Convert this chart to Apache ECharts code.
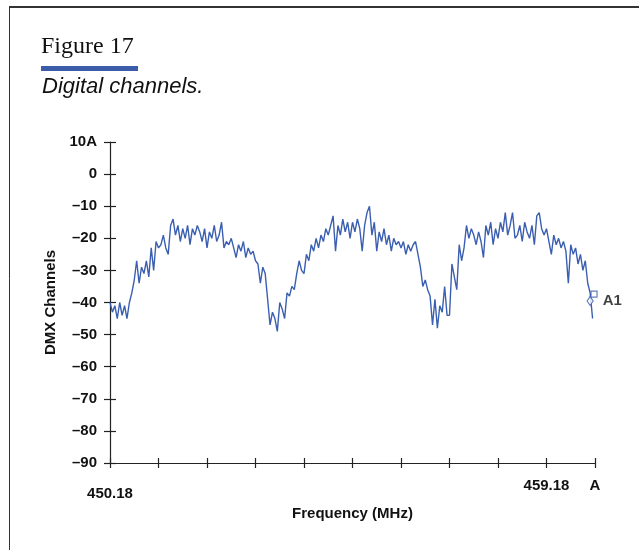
<!DOCTYPE html>
<html>
<head>
<meta charset="utf-8">
<script src="https://cdn.jsdelivr.net/npm/echarts@6/dist/echarts.min.js"></script>
<style>
  html, body { margin: 0; padding: 0; background: #fff; }
  #chart { width: 639px; height: 550px; }
</style>
</head>
<body>
<div id="chart"></div>
<script>
// x axis is in screen divisions (0..10), one division = 1 MHz
const xTickLabels = ['450.18', '', '', '', '', '', '', '', '', '459.18', 'A'];
const yTickValues = [-90, -80, -70, -60, -50, -40, -30, -20, -10, 0, 10];
const yTickLabels = ['–90', '–80', '–70', '–60', '–50', '–40', '–30', '–20', '–10', '0', '10A'];

// sweep points, 0.05 division apart
const sweepStep = 0.05;
const traceLevels = [
  -40, -43, -41, -45, -40, -44, -41, -45, -40, -37,
  -33, -27, -34, -29, -31, -27, -32, -23, -30, -21,
  -23, -22, -19, -23, -25, -16, -14, -19, -16, -21,
  -17, -20, -16, -22, -17, -19, -16, -18, -21, -17,
  -23, -18, -20, -16, -21, -19, -15, -23, -21, -22,
  -20, -23, -26, -22, -24, -21, -26, -23, -25, -24,
  -27, -28, -34, -29, -31, -39, -47, -43, -45, -49,
  -40, -42, -45, -37, -38, -35, -36, -31, -27, -30,
  -31, -25, -27, -22, -24, -20, -23, -19, -21, -17,
  -19, -16, -13, -24, -16, -19, -14, -18, -15, -20,
  -15, -18, -14, -17, -24, -16, -12, -10, -19, -15,
  -24, -18, -21, -17, -22, -19, -24, -20, -22, -21,
  -23, -21, -25, -22, -24, -22, -21, -25, -29, -35,
  -33, -36, -38, -47, -39, -48, -41, -43, -35, -44,
  -44, -28, -32, -36, -22, -27, -23, -16, -20, -17,
  -19, -22, -18, -21, -26, -16, -19, -15, -22, -17,
  -20, -15, -18, -12, -19, -16, -12, -20, -19, -16,
  -21, -15, -18, -20, -16, -22, -13, -12, -17, -19,
  -17, -21, -25, -19, -22, -20, -23, -21, -24, -34,
  -22, -25, -23, -28, -25, -30, -27, -34, -37, -45
];

// marker A1
const markerSquare = [9.98, -37.4];
const markerDiamond = [9.9, -39.5];

const axisColor = '#222';
const textFont = '"Liberation Sans", Arial, sans-serif';

const chart = echarts.init(document.getElementById('chart'));

const traceData = traceLevels.map((v, i) => [i * sweepStep, v]);

const option = {
  animation: false,
  graphic: [
    // frame
    { type: 'line', shape: { x1: 9, y1: 7, x2: 639, y2: 7 }, style: { stroke: '#333', lineWidth: 2 } },
    { type: 'line', shape: { x1: 9.5, y1: 7, x2: 9.5, y2: 550 }, style: { stroke: '#333', lineWidth: 1 } },
    {
      type: 'text', left: 41, top: 35,
      style: { text: 'Figure 17', fontSize: 24, fontFamily: '"Liberation Serif", "DejaVu Serif", serif', fill: '#111' }
    },
    { type: 'rect', shape: { x: 41, y: 66, width: 97, height: 5 }, style: { fill: '#3b5ca8' } },
    {
      type: 'text', left: 42, top: 76,
      style: { text: 'Digital channels.', fontSize: 22, fontStyle: 'italic', fontFamily: textFont, fill: '#111' }
    }
  ],
  grid: {
    left: 110,
    right: 44,
    top: 142,
    bottom: 87
  },
  xAxis: [
    {
      type: 'value',
      min: 0,
      max: 10,
      interval: 1,
      position: 'bottom',
      axisLine: { onZero: false, lineStyle: { color: axisColor, width: 1.2 } },
      axisTick: { length: 5, lineStyle: { color: axisColor, width: 1.2 } },
      splitLine: { show: false },
      axisLabel: {
        showMinLabel: true,
        showMaxLabel: true,
        margin: 15,
        color: '#111',
        fontSize: 15,
        fontWeight: 'bold',
        fontFamily: textFont,
        formatter: (v) => {
          const s = xTickLabels[Math.round(v)] || '';
          return Math.round(v) === 0 ? '{low|' + s + '}' : s;
        },
        rich: {
          low: { padding: [8, 0, 0, 0], color: '#111', fontSize: 15, fontWeight: 'bold', fontFamily: textFont }
        }
      },
      name: 'Frequency (MHz)',
      nameLocation: 'middle',
      nameGap: 43,
      nameTextStyle: { color: '#111', fontSize: 15, fontWeight: 'bold', fontFamily: textFont }
    },
    {
      type: 'value',
      min: 0,
      max: 10,
      interval: 1,
      position: 'bottom',
      axisLine: { show: false, onZero: false },
      axisTick: { inside: true, length: 5, lineStyle: { color: axisColor, width: 1.2 } },
      axisLabel: { show: false },
      splitLine: { show: false }
    }
  ],
  yAxis: [
    {
      type: 'value',
      min: -90,
      max: 10,
      interval: 10,
      position: 'left',
      axisLine: { show: true, onZero: false, lineStyle: { color: axisColor, width: 1.2 } },
      axisTick: { show: true, length: 6, lineStyle: { color: axisColor, width: 1.2 } },
      splitLine: { show: false },
      axisLabel: {
        margin: 13,
        color: '#111',
        fontSize: 15,
        fontWeight: 'bold',
        fontFamily: textFont,
        formatter: (v) => yTickLabels[yTickValues.indexOf(Math.round(v))]
      },
      name: 'DMX Channels',
      nameLocation: 'middle',
      nameGap: 47,
      nameTextStyle: { color: '#111', fontSize: 15, fontWeight: 'bold', fontFamily: textFont }
    },
    {
      type: 'value',
      min: -90,
      max: 10,
      interval: 10,
      position: 'left',
      axisLine: { show: false, onZero: false },
      axisTick: { show: true, inside: true, length: 6, lineStyle: { color: axisColor, width: 1.2 } },
      axisLabel: { show: false },
      splitLine: { show: false }
    }
  ],
  series: [
    {
      type: 'line',
      data: traceData,
      showSymbol: false,
      lineStyle: { color: '#3b5fb0', width: 1.4 },
      z: 3
    },
    {
      type: 'scatter',
      data: [markerSquare],
      symbol: 'rect',
      symbolSize: 6,
      itemStyle: { color: '#fff', borderColor: '#3b5fb0', borderWidth: 1.2 },
      z: 4
    },
    {
      type: 'scatter',
      data: [markerDiamond],
      symbol: 'diamond',
      symbolSize: [6, 9],
      itemStyle: { color: '#fff', borderColor: '#3b5fb0', borderWidth: 1.2 },
      label: {
        show: true,
        position: 'right',
        distance: 9,
        formatter: 'A1',
        color: '#111',
        fontSize: 15,
        fontWeight: 'bold',
        fontFamily: textFont
      },
      z: 4
    }
  ]
};

chart.setOption(option);

window.addEventListener('resize', () => {
  chart.resize();
});
</script>
</body>
</html>
